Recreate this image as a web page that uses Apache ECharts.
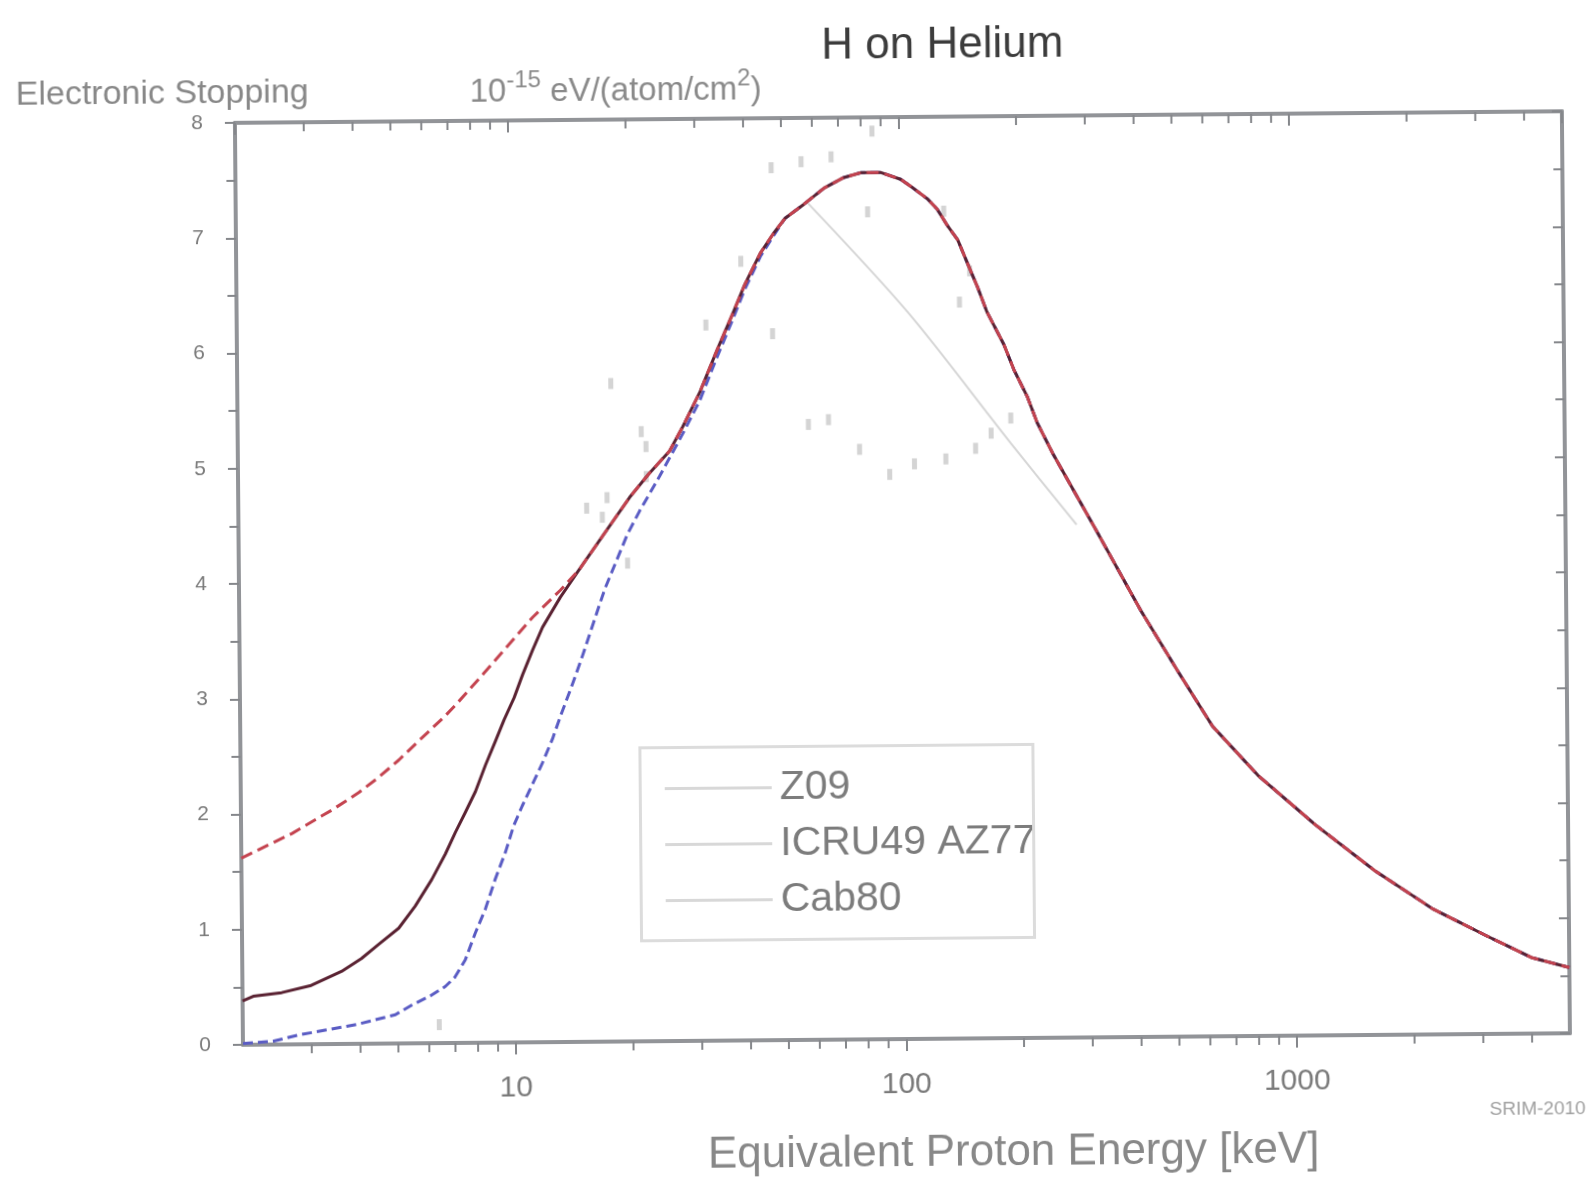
<!DOCTYPE html>
<html><head><meta charset="utf-8">
<script src="https://cdn.jsdelivr.net/npm/echarts@6/dist/echarts.min.js"></script>
<style>html,body{margin:0;padding:0;background:#fff;overflow:hidden}
#c{width:1586px;height:1177px;transform:rotate(-0.5deg);transform-origin:50% 50%;}</style>
</head><body><div id="c"></div><script>
// ---- data (energy in keV, electronic stopping in 1e-15 eV/(atom/cm2)) ----
const seriesNames = ['Z09', 'ICRU49 AZ77', 'Cab80'];
const xTickLabels = ['10', '100', '1000'];
const yTickLabels = ['0', '1', '2', '3', '4', '5', '6', '7', '8'];

// part where all three curves coincide
const commonE = [51, 57, 64.3, 72.3, 80, 90, 101, 107, 118, 125, 133, 141, 149, 158, 167, 184, 195, 211, 223, 245, 313, 407, 507, 618, 806, 1125, 1603, 2240, 3060, 4000, 5000];
const commonS = [7.13, 7.25, 7.39, 7.48, 7.52, 7.52, 7.46, 7.40, 7.29, 7.20, 7.05, 6.93, 6.73, 6.52, 6.30, 6.02, 5.80, 5.56, 5.34, 5.06, 4.41, 3.70, 3.16, 2.69, 2.26, 1.83, 1.42, 1.09, 0.855, 0.66, 0.57];

// Z09 (dark solid) low-energy part
const z09E = [2, 2.13, 2.52, 3.0, 3.59, 4.04, 4.47, 5.04, 5.56, 6.14, 6.66, 7.08, 7.51, 7.98, 8.48, 9.01, 9.48, 10.07, 10.6, 11.25, 11.95, 13.3, 14.9, 17.9, 20.1, 22.5, 25.5, 27.6, 30.6, 33.9, 37.3, 40.1, 44.0, 47.6];
const z09S = [0.38, 0.42, 0.45, 0.51, 0.63, 0.74, 0.86, 1.0, 1.19, 1.42, 1.64, 1.83, 2.0, 2.18, 2.41, 2.62, 2.80, 2.99, 3.19, 3.40, 3.60, 3.86, 4.1, 4.48, 4.72, 4.92, 5.12, 5.33, 5.63, 5.99, 6.31, 6.56, 6.83, 7.0];

// ICRU49 / AZ77 (red dashed) low-energy part, joins Z09 above 14.9 keV
const icruE = [2, 2.15, 2.70, 3.22, 3.42, 4.01, 4.51, 5.09, 5.67, 6.71, 7.12, 8.46, 8.88, 11.3, 13.3, 14.9];
const icruS = [1.62, 1.67, 1.83, 1.98, 2.03, 2.18, 2.31, 2.46, 2.61, 2.84, 2.93, 3.21, 3.29, 3.69, 3.92, 4.1];

// Cab80 (blue dashed) low-energy part
const cabE = [2, 2.4, 2.77, 3.94, 4.92, 5.41, 6.05, 6.61, 7.0, 7.45, 7.91, 8.41, 8.93, 9.49, 9.98, 10.5, 11.1, 11.85, 12.6, 13.2, 14.2, 15.0, 15.9, 16.7, 17.3, 19.8, 21.3, 24.0, 27.6, 30.6, 33.9, 37.3, 40.1, 44.0, 47.6];
const cabS = [0.01, 0.03, 0.08, 0.17, 0.25, 0.33, 0.41, 0.49, 0.57, 0.72, 0.95, 1.16, 1.42, 1.65, 1.88, 2.05, 2.22, 2.42, 2.63, 2.82, 3.10, 3.32, 3.57, 3.78, 3.93, 4.40, 4.60, 4.90, 5.27, 5.56, 5.93, 6.26, 6.52, 6.80, 6.98];

// faint gray curve and experimental points
const grayE = [58, 105, 191, 280];
const grayS = [7.27, 6.3, 5.16, 4.45];
const expE = [18.1, 21.6, 22.2, 17.6, 17.1, 19.8, 31.8, 39.2, 47.1, 56.2, 67.1, 85.5, 47.1, 57.9, 65.2, 78.2, 93.3, 108, 130, 155, 170, 142, 151, 130, 83, 191, 6.37, 22.2, 15.6];
const expS = [5.71, 5.29, 5.16, 4.72, 4.55, 4.15, 6.21, 6.76, 7.57, 7.62, 7.66, 7.88, 6.13, 5.34, 5.38, 5.12, 4.9, 4.99, 5.03, 5.12, 5.25, 6.39, 6.66, 7.18, 7.18, 5.38, 0.16, 4.9, 4.63];

// ---- build ----
const zip = (a, b) => a.map((v, i) => [v, b[i]]);
const commonPts = zip(commonE, commonS);
const z09Pts = zip(z09E, z09S).concat(commonPts);
const icruPts = zip(icruE, icruS).concat(zip(z09E, z09S).filter(p => p[0] > 14.9)).concat(commonPts);
const cabPts = zip(cabE, cabS).concat(commonPts);

const X_MIN = 2, X_MAX = 5000;
const minorX = [];
for (let k = 0; k < 4; k++) for (let m = 2; m <= 9; m++) {
  const v = m * Math.pow(10, k);
  if (v > X_MIN && v < X_MAX) minorX.push([v, 0]);
}

const F = '"Liberation Sans", Arial, Helvetica, sans-serif';
const AX = '#929498';
const TK = '#85878b';

const chart = echarts.init(document.getElementById('c'), null, {renderer: 'canvas'});
chart.setOption({
  backgroundColor: '#fff',
  animation: false,
  title: [
    {text: 'H on Helium', left: 826, top: 25, padding: 0, textStyle: {fontSize: 44, fontWeight: 'normal', color: '#3c3c3c', fontFamily: F}},
    {text: 'Electronic Stopping', left: 20, top: 72, padding: 0, textStyle: {fontSize: 34, fontWeight: 'normal', color: '#888888', fontFamily: F}},
    {text: '{a|10}{s|-15}{a| eV/(atom/cm}{s|2}{a|)}', left: 474, top: 66, padding: 0,
     textStyle: {fontFamily: F, color: '#8a8a8a', fontWeight: 'normal',
       rich: {a: {fontSize: 33, lineHeight: 40, verticalAlign: 'bottom', color: '#8a8a8a', fontFamily: F, fontWeight: 'normal'},
              s: {fontSize: 24, lineHeight: 40, verticalAlign: 'top', color: '#8a8a8a', fontFamily: F, fontWeight: 'normal'}}}},
    {text: 'Equivalent Proton Energy [keV]', left: 703, top: 1133, padding: 0, textStyle: {fontSize: 44, fontWeight: 'normal', color: '#888888', fontFamily: F}},
    {text: 'SRIM-2010', left: 1485, top: 1106, padding: 0, textStyle: {fontSize: 19, fontWeight: 'normal', color: '#a0a0a0', fontFamily: F}}
  ],
  grid: {left: 239, right: 20, top: 118, bottom: 137, containLabel: false},
  legend: {
    data: seriesNames, orient: 'vertical', left: 663, top: 767, padding: 0,
    icon: 'rect', itemWidth: 107, itemHeight: 3, itemGap: 15, selectedMode: false,
    itemStyle: {color: '#d8d8d8', borderWidth: 0},
    textStyle: {fontSize: 41, color: '#7c7c7c', fontFamily: F, padding: [0, 0, 0, 3]}
  },
  graphic: [
    {type: 'rect', left: 637, top: 745, shape: {width: 393, height: 193}, style: {fill: 'rgba(255,255,255,0)', stroke: '#dcdcdc', lineWidth: 3}, z: 10, silent: true}
  ],
  xAxis: [
    {type: 'log', logBase: 10, min: X_MIN, max: X_MAX, position: 'bottom',
     axisLine: {onZero: false, lineStyle: {color: AX, width: 4}},
     axisTick: {length: 12, lineStyle: {color: TK, width: 2}},
     splitLine: {show: false},
     axisLabel: {margin: 31, fontSize: 30, color: '#7a7a7a', fontFamily: F, showMinLabel: false, showMaxLabel: false,
       formatter: v => { const l = Math.log10(v); const i = Math.round(l) - 1; return (Math.abs(l - Math.round(l)) < 1e-6 && xTickLabels[i]) ? xTickLabels[i] : ''; }}},
    {type: 'log', logBase: 10, min: X_MIN, max: X_MAX, position: 'top',
     axisLine: {onZero: false, lineStyle: {color: AX, width: 4}},
     axisTick: {inside: true, length: 12, lineStyle: {color: TK, width: 2}},
     splitLine: {show: false}, axisLabel: {show: false}}
  ],
  yAxis: [
    {type: 'value', min: 0, max: 8, interval: 1, position: 'left',
     axisLine: {show: true, onZero: false, lineStyle: {color: AX, width: 4}},
     axisTick: {show: true, length: 10, lineStyle: {color: TK, width: 2}},
     minorTick: {show: true, splitNumber: 2, length: 9, lineStyle: {color: TK, width: 2}},
     splitLine: {show: false},
     axisLabel: {margin: 32, fontSize: 21, color: '#7a7a7a', fontFamily: F, formatter: v => yTickLabels[Math.round(v)]}},
    {type: 'value', min: 0, max: 8, interval: 1, position: 'right',
     axisLine: {show: true, onZero: false, lineStyle: {color: AX, width: 4}},
     axisTick: {show: true, inside: true, length: 10, lineStyle: {color: TK, width: 2}},
     minorTick: {show: true, splitNumber: 2, length: 9, lineStyle: {color: TK, width: 2}},
     splitLine: {show: false}, axisLabel: {show: false}}
  ],
  series: [
    {type: 'custom', name: 'minorTicks', xAxisIndex: 0, yAxisIndex: 0, silent: true, clip: false, z: 5,
     data: minorX, encode: {x: 0, y: 1},
     renderItem: (params, api) => {
       const x = api.value(0);
       const b = api.coord([x, 0]);
       const t = api.coord([x, 8]);
       return {type: 'group', children: [
         {type: 'line', shape: {x1: b[0], y1: b[1], x2: b[0], y2: b[1] + 9}, style: {stroke: TK, lineWidth: 2}},
         {type: 'line', shape: {x1: t[0], y1: t[1], x2: t[0], y2: t[1] + 9}, style: {stroke: TK, lineWidth: 2}}
       ]};
     }},
    {type: 'scatter', name: 'exp', data: zip(expE, expS), symbol: 'rect', symbolSize: [5, 11],
     itemStyle: {color: '#c9c9c9'}, z: 1, silent: true},
    {type: 'line', name: 'gray', data: zip(grayE, grayS), symbol: 'none', smooth: 0.3,
     lineStyle: {color: '#d6d6d6', width: 2}, z: 1, silent: true},
    {type: 'line', name: seriesNames[2], data: cabPts, symbol: 'none',
     lineStyle: {color: '#5a5cc4', width: 3, type: [10, 5], join: 'round'}, z: 2},
    {type: 'line', name: seriesNames[0], data: z09Pts, symbol: 'none',
     lineStyle: {color: '#5a2232', width: 3, join: 'round'}, z: 3},
    {type: 'line', name: seriesNames[1], data: icruPts, symbol: 'none',
     lineStyle: {color: '#c4434f', width: 3, type: [12, 6], join: 'round'}, z: 4}
  ]
});
</script></body></html>
